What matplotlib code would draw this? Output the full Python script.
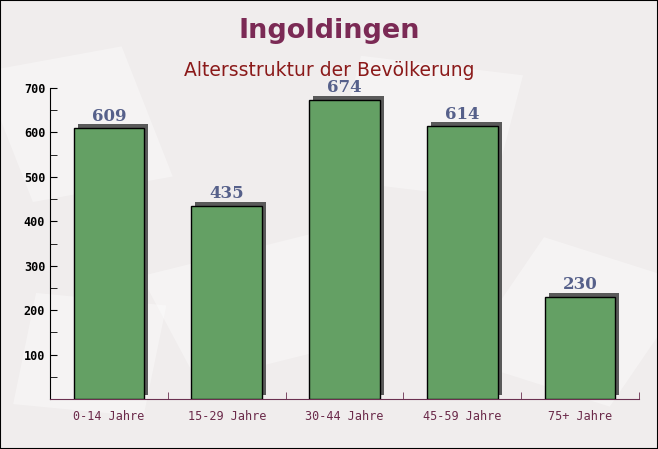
import numpy as np
import matplotlib.pyplot as plt
from matplotlib.patches import Rectangle
from matplotlib.ticker import MultipleLocator, FixedLocator

categories = ["0-14 Jahre", "15-29 Jahre", "30-44 Jahre", "45-59 Jahre", "75+ Jahre"]
values = [609, 435, 674, 614, 230]
y_ticks = [100, 200, 300, 400, 500, 600, 700]

fig = plt.figure(figsize=(6.58, 4.49), dpi=100, facecolor="#f0eded")
ax = fig.add_axes([50 / 658, 50 / 449, 589 / 658, 311 / 449])
ax.set_facecolor("none")

# faint background shapes (behind everything)
for (x0, y0, w, h, ang) in [(0.05, 0.55, 0.22, 0.3, 15), (0.5, 0.6, 0.25, 0.28, -10),
                           (0.3, 0.15, 0.3, 0.25, 20), (0.7, 0.2, 0.25, 0.3, -25),
                           (0.02, 0.1, 0.2, 0.25, -8)]:
    fig.patches.append(Rectangle((x0, y0), w, h, angle=ang, transform=fig.transFigure,
                                 facecolor="white", alpha=0.35, edgecolor="none", zorder=-5))

x = np.arange(len(categories))
width = 0.6
# shadows
dx = 4 / 589 * len(categories)
dy = 4 / 311 * 700
ax.bar(x + dx, values, width=width, bottom=dy, color="#5a5a5a", zorder=2)
ax.bar(x, values, width=width, color="#64a064", edgecolor="black",
       linewidth=1.0, zorder=3)
for xi, v in zip(x, values):
    ax.text(xi, v + 8, str(v), ha="center", va="bottom", fontsize=12, fontweight="bold",
            family="DejaVu Serif", color="#56608a", zorder=4)

ax.set_xlim(-0.5, len(categories) - 0.5)
ax.set_ylim(0, 700)
ax.yaxis.set_major_locator(FixedLocator(y_ticks))
ax.yaxis.set_minor_locator(MultipleLocator(50))
ax.set_xticks(x)
ax.set_xticklabels(categories, family="DejaVu Sans Mono", fontsize=8.5, color="#6b2a4a")
ax.xaxis.set_minor_locator(FixedLocator(x + 0.5))
ax.tick_params(axis="x", which="major", length=0, pad=8)
ax.tick_params(axis="x", which="minor", direction="in", length=5, color="#6b3050")
ax.tick_params(axis="y", which="both", direction="in", length=5, color="black")
for lab in ax.get_yticklabels():
    lab.set_family("DejaVu Sans Mono")
    lab.set_fontweight("bold")
    lab.set_fontsize(8.5)
    lab.set_color("black")
ax.spines["top"].set_visible(False)
ax.spines["right"].set_visible(False)
ax.spines["left"].set_color("black")
ax.spines["bottom"].set_color("#6b3050")

fig.text(0.5, 1 - 31 / 449, "Ingoldingen", ha="center", va="center", fontsize=19.5,
         fontweight="bold", color="#7b2a55")
fig.text(0.5, 1 - 70 / 449, "Altersstruktur der Bevölkerung", ha="center", va="center",
         fontsize=13.5, color="#8b1a1a")
fig.patches.append(Rectangle((0, 0), 1, 1, transform=fig.transFigure, fill=False,
                             edgecolor="black", linewidth=1.5, zorder=10))

fig.savefig("out.png", dpi=100, facecolor=fig.get_facecolor())
